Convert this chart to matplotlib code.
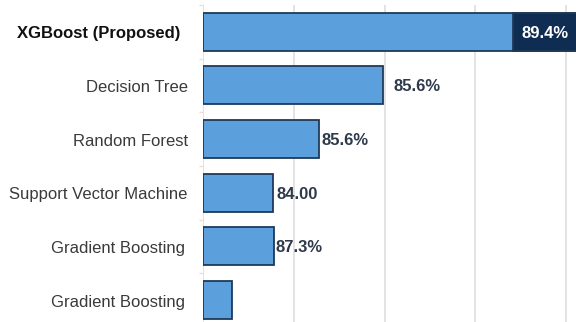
import matplotlib
matplotlib.use("Agg")
import matplotlib.pyplot as plt

# data
models = ["XGBoost (Proposed)", "Decision Tree", "Random Forest",
          "Support Vector Machine", "Gradient Boosting", "Gradient Boosting"]
bar_len = [83.0, 39.7, 25.6, 15.4, 15.7, 6.4]
value_labels = ["89.4%", "85.6%", "85.6%", "84.00", "87.3%", ""]
highlight_start = 68.4   # dark part of the top bar starts here
grid_ticks = [0, 20, 40, 60, 80]

plt.rcParams['font.family'] = ['Liberation Sans', 'DejaVu Sans']

fig = plt.figure(figsize=(5.76, 3.22), dpi=100)
ax = fig.add_axes([203 / 576, 0, 1 - 203 / 576, 317 / 322])

y = list(range(len(models)))
light = "#5ba0dd"
edge = "#1f3a58"
dark = "#0f2d52"

ax.barh(y, bar_len, height=0.71, color=light, edgecolor=edge, linewidth=1.3, zorder=2)
ax.barh(y[0], bar_len[0] - highlight_start, left=highlight_start, height=0.71,
        color=dark, edgecolor=edge, linewidth=1.3, zorder=3)

ax.set_xlim(0, 82.2)
ax.set_ylim(5.41, -0.5)

ax.set_xticks(grid_ticks)
ax.grid(axis='x', color='#dedede', linewidth=1.2, zorder=0)
ax.set_axisbelow(True)
ax.tick_params(axis='x', length=0, labelbottom=False)
ax.set_yticks([])
ax.set_yticks([i - 0.5 for i in y], minor=True)
ax.tick_params(axis='y', which='minor', length=3, color='#f2dccc', width=1)
for s in ax.spines.values():
    s.set_visible(False)

# category labels, right aligned left of the axis
name_pad = [16.5, 11, 11, 11, 13, 13]
for i, name in enumerate(models):
    bold = i == 0
    ax.annotate(name, xy=(0, i), xycoords=('axes fraction', 'data'),
                xytext=(-name_pad[i], -1.5), textcoords='offset points',
                ha='right', va='center', fontsize=12,
                fontweight='bold' if bold else 'normal',
                color='#111111' if bold else '#3a3a3a', annotation_clip=False)

# value labels
label_pad = [6, 7.2, 1.4, 2.9, 0.7, 0]
for i, txt in enumerate(value_labels):
    if not txt:
        continue
    if i == 0:
        ax.annotate(txt, xy=(highlight_start, i), xytext=(label_pad[i], -1),
                    textcoords='offset points', ha='left', va='center',
                    fontsize=12, fontweight='bold', color='white', zorder=4)
    else:
        ax.annotate(txt, xy=(bar_len[i], i), xytext=(label_pad[i], -1),
                    textcoords='offset points', ha='left', va='center',
                    fontsize=12, fontweight='bold', color='#2e3a4a')

fig.savefig("out.png", dpi=100)
